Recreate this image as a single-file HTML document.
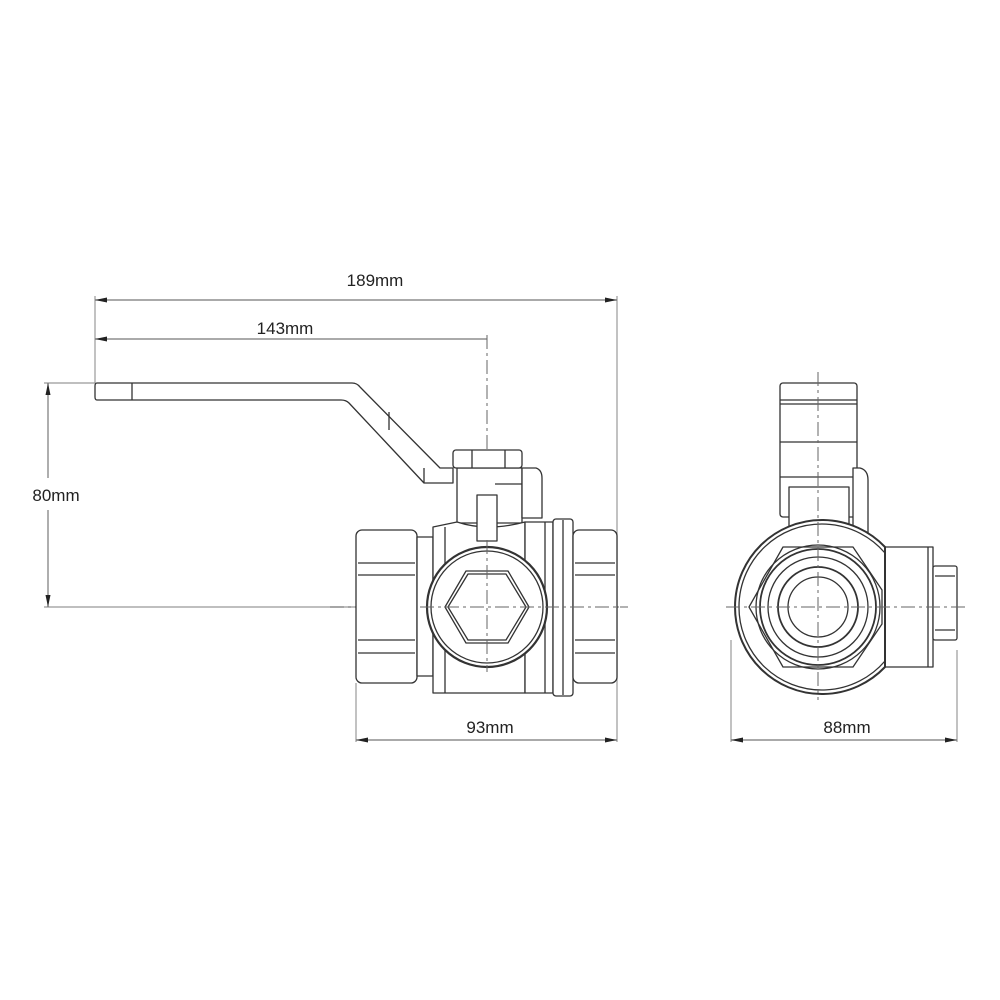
<!DOCTYPE html>
<html><head><meta charset="utf-8"><style>
html,body{margin:0;padding:0;background:#fff;}
svg{display:block;}
text{font-family:"Liberation Sans",sans-serif;font-size:17px;fill:#222;}
</style></head><body>
<svg width="1000" height="1000" viewBox="0 0 1000 1000" xmlns="http://www.w3.org/2000/svg">
<defs>
<marker id="a" viewBox="0 0 12 8" refX="12" refY="4" markerWidth="12" markerHeight="8" orient="auto-start-reverse" markerUnits="userSpaceOnUse"><path d="M0,1.5 L12,4 L0,6.5Z" fill="#222"/></marker>
</defs>
<g stroke="#999" stroke-width="1.2" fill="none">
<line x1="95" y1="296" x2="95" y2="383"/>
<line x1="617" y1="296" x2="617" y2="742"/>
<line x1="356" y1="683" x2="356" y2="742"/>
<line x1="44" y1="383" x2="95" y2="383"/>
<line x1="44" y1="607" x2="360" y2="607"/>
<line x1="731" y1="640" x2="731" y2="742"/>
<line x1="957" y1="650" x2="957" y2="742"/>
</g>
<g stroke="#777" stroke-width="1.2" fill="none">
<line x1="95" y1="300" x2="617" y2="300" marker-start="url(#a)" marker-end="url(#a)"/>
<line x1="95" y1="339" x2="487" y2="339" marker-start="url(#a)"/>
<line x1="48" y1="383" x2="48" y2="478" marker-start="url(#a)"/>
<line x1="48" y1="510" x2="48" y2="607" marker-end="url(#a)"/>
<line x1="356" y1="740" x2="617" y2="740" marker-start="url(#a)" marker-end="url(#a)"/>
<line x1="731" y1="740" x2="957" y2="740" marker-start="url(#a)" marker-end="url(#a)"/>
</g>
<text x="375" y="286" text-anchor="middle">189mm</text>
<text x="285" y="334" text-anchor="middle">143mm</text>
<text x="56" y="501" text-anchor="middle">80mm</text>
<text x="490" y="733" text-anchor="middle">93mm</text>
<text x="847" y="733" text-anchor="middle">88mm</text>

<g stroke="#666" stroke-width="1" fill="none" stroke-dasharray="14,4,3,4">
<line x1="487" y1="335" x2="487" y2="672"/>
<line x1="330" y1="607" x2="628" y2="607"/>
<line x1="818" y1="372" x2="818" y2="700"/>
<line x1="726" y1="607" x2="966" y2="607"/>
</g>

<g stroke="#333" stroke-width="1.3" fill="#fff" stroke-linejoin="round">
<path d="M97,383 L352,383 Q357,383 360,387 L440,468 L453,468 L453,483 L424,483 L349,403 Q346,400 341,400 L97,400 Q95,400 95,397 L95,386 Q95,383 97,383Z"/>
<line x1="132" y1="383" x2="132" y2="400"/>
<line x1="389" y1="412" x2="389" y2="430"/>
<line x1="424" y1="468" x2="424" y2="483"/>
<rect x="356" y="530" width="61" height="153" rx="6"/>
<line x1="358" y1="563" x2="415" y2="563"/><line x1="358" y1="575" x2="415" y2="575"/>
<line x1="358" y1="640" x2="415" y2="640"/><line x1="358" y1="653" x2="415" y2="653"/>
<rect x="417" y="537" width="16" height="139"/>
<rect x="457" y="468" width="65" height="55"/>
<path d="M522,468 L536,468 Q542,470 542,478 L542,518 L522,518Z"/>
<line x1="495" y1="484" x2="522" y2="484"/>
<rect x="453" y="450" width="69" height="18" rx="3"/>
<line x1="472" y1="450" x2="472" y2="468"/><line x1="505" y1="450" x2="505" y2="468"/>
<path d="M433,527 L457,522 Q487,532 525,522 L525,693 L433,693Z"/>
<line x1="445" y1="527" x2="445" y2="693"/>
<rect x="477" y="495" width="20" height="46"/>
<rect x="525" y="522" width="28" height="171"/>
<line x1="545" y1="522" x2="545" y2="693"/>
<rect x="553" y="519" width="20" height="177" rx="3"/>
<line x1="563" y1="520" x2="563" y2="695"/>
<rect x="573" y="530" width="44" height="153" rx="6"/>
<line x1="575" y1="563" x2="615" y2="563"/><line x1="575" y1="575" x2="615" y2="575"/>
<line x1="575" y1="640" x2="615" y2="640"/><line x1="575" y1="653" x2="615" y2="653"/>
<circle cx="487" cy="607" r="60" stroke-width="2.2"/>
<circle cx="487" cy="607" r="56"/>
<polygon points="466,571 508,571 529,607 508,643 466,643 445,607"/>
<polygon points="468,574 506,574 526,607 506,640 468,640 448,607" fill="none"/>

<!-- side view -->
<rect x="780" y="383" width="77" height="134" rx="3"/>
<line x1="780" y1="400" x2="857" y2="400"/><line x1="780" y1="404" x2="857" y2="404"/>
<line x1="780" y1="442" x2="857" y2="442"/><line x1="780" y1="477" x2="857" y2="477"/>
<path d="M853,468 L860,468 Q868,470 868,480 L868,540 L853,540Z"/>
<path d="M789,487 L849,487 L849,530 L789,530Z"/>
<rect x="885" y="547" width="48" height="120"/>
<line x1="928" y1="547" x2="928" y2="667"/>
<rect x="933" y="566" width="24" height="74" rx="2"/>
<line x1="935" y1="576" x2="955" y2="576"/><line x1="935" y1="630" x2="955" y2="630"/>
<path d="M885,547 A87,87 0 1 0 885,667 Z" stroke-width="2"/>
<path d="M885,553 A83,83 0 1 0 885,661" fill="none"/>
<polygon points="783,547 853,547 882,590 882,624 853,667 783,667 749,607" fill="none"/>
<circle cx="818" cy="607" r="62" fill="none"/>
<circle cx="818" cy="607" r="58" fill="none" stroke-width="1.8"/>
<circle cx="818" cy="607" r="50" fill="none"/>
<circle cx="818" cy="607" r="40" fill="none" stroke-width="1.8"/>
<circle cx="818" cy="607" r="30" fill="none"/>
</g>
<g stroke="#666" stroke-width="1" fill="none" stroke-dasharray="14,4,3,4">
<line x1="487" y1="540" x2="487" y2="672"/>
<line x1="420" y1="607" x2="628" y2="607"/>
<line x1="818" y1="372" x2="818" y2="700"/>
<line x1="726" y1="607" x2="966" y2="607"/>
</g>
</svg>
</body></html>
